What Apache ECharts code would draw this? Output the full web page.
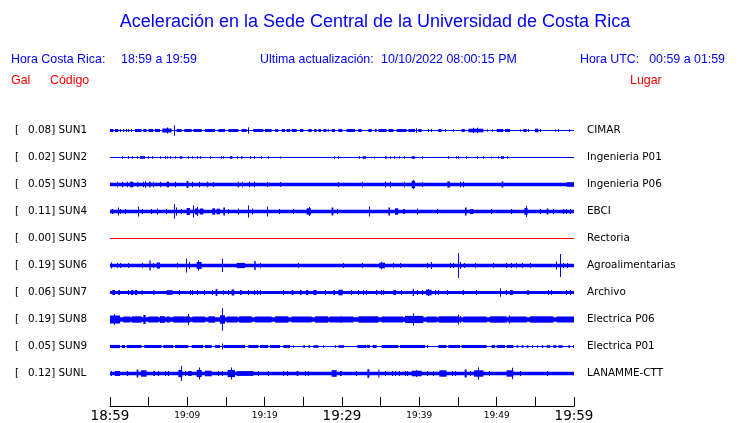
<!DOCTYPE html>
<html>
<head>
<meta charset="utf-8">
<script src="https://cdn.jsdelivr.net/npm/echarts@6/dist/echarts.min.js"></script>
<style>html,body{margin:0;padding:0;background:#fff;}#c{width:740px;height:423px;}</style>
</head>
<body>
<div id="c"></div>
<script>
// ---------- data ----------
const codes = ['SUN1','SUN2','SUN3','SUN4','SUN5','SUN6','SUN7','SUN8','SUN9','SUNL'];
const galPeaks = ['0.08','0.02','0.05','0.11','0.00','0.19','0.06','0.19','0.05','0.12'];
const places = ['CIMAR','Ingenieria P01','Ingenieria P06','EBCI','Rectoria','Agroalimentarias','Archivo','Electrica P06','Electrica P01','LANAMME-CTT'];
const tickLabels = ['18:59','','19:09','','19:19','','19:29','','19:39','','19:49','','19:59'];
const majorLabels = ['18:59','19:29','19:59'];
// background trace half-amplitude (display units)
const baseHalf = [0.6,0.5,1.8,1.8,0.5,1.8,1.6,2.3,0.6,1.8];
// events: [startMinute, endMinute, halfAmplitude]
const sun1Events = [[0,0.43,1.5],[0.65,1.08,1.5],[1.29,1.29,1.5],[1.72,1.72,1.5],[2.03,2.03,1.5],[2.37,2.37,1.5],[2.72,2.72,1.5],[3.23,4.09,1.5],[4.31,4.74,1.5],[4.96,5.6,1.5],[5.82,6.47,1.5],[6.77,7.97,2],[7.4,7.4,3],[8.32,8.32,5.3],[8.62,9.27,1.5],[9.61,10.56,1.5],[10.78,11.85,1.5],[12.28,13.58,1.5],[14.0,14.87,1.5],[15.3,16.6,1.5],[17.03,17.67,1.5],[17.8,17.8,3.3],[18.53,19.83,1.5],[20.04,20.9,1.5],[21.34,21.77,1.5],[22.2,22.63,1.5],[22.84,23.28,1.5],[23.49,24.14,1.5],[24.57,25.0,1.5],[25.65,26.08,1.5],[26.42,26.72,1.5],[26.94,27.28,1.5],[27.59,28.0,1.5],[28.15,28.3,1.5],[28.66,29.09,1.5],[29.53,30.04,1.5],[30.6,31.68,1.5],[32.11,32.54,1.5],[33.4,33.84,1.5],[34.27,34.48,1.5],[34.7,35.78,1.5],[36.0,36.64,1.5],[37.07,38.36,1.5],[38.58,39.44,1.5],[39.57,39.57,2.3],[39.87,40.3,1.5],[41.16,41.16,1.5],[41.47,41.47,1.5],[42.46,42.89,1.5],[43.32,43.32,1.5],[44.4,44.4,1.2],[45.47,45.9,1.5],[46.34,48.28,1.8],[46.98,46.98,2.7],[47.41,47.41,2.7],[48.71,48.71,1.2],[49.35,49.35,1.2],[50.0,50.86,1.5],[51.08,51.72,1.5],[53.02,53.02,1.2],[53.45,53.88,1.5],[54.09,54.09,1.5],[54.96,55.39,1.8],[55.6,55.6,1.5],[57.54,57.54,1.2],[57.97,57.97,1.2],[59.4,59.4,1.2]];
const sun2Events = [[1.51,1.51,1.3],[2.37,2.37,1.3],[2.8,2.8,1.3],[3.45,3.45,1.3],[3.88,4.53,1.3],[4.96,4.96,1.3],[5.39,5.39,1.3],[6.47,6.47,1.3],[7.11,7.11,1.3],[7.33,7.33,1.3],[7.76,7.76,1.3],[8.41,8.41,1.3],[9.05,9.35,1.3],[10.04,10.04,1.3],[10.65,10.65,1.3],[11.21,11.21,1.3],[11.64,11.64,1.3],[12.93,12.93,1.3],[14.35,14.35,1.3],[14.66,14.66,1.3],[15.52,15.82,1.3],[16.38,16.38,1.3],[16.94,17.11,1.3],[18.1,18.1,1.3],[18.66,18.66,1.3],[19.53,19.53,1.3],[20.47,20.47,1.3],[21.98,21.98,1.0],[29.0,29.0,1.3],[29.53,29.53,1.3],[32.24,32.24,1.3],[32.67,33.1,1.3],[34.18,34.18,1.0],[35.56,35.78,1.3],[36.21,36.21,1.3],[36.77,36.77,1.3],[37.37,37.37,1.3],[38.06,38.06,1.3],[39.01,39.44,1.3],[40.3,40.3,1.3],[43.75,43.75,1.3],[44.74,44.74,1.3],[45.04,45.04,1.3],[46.03,46.03,1.3],[47.5,47.5,1.3],[48.19,48.19,1.3],[49.22,49.22,1.0],[50.22,50.22,1.3],[50.56,50.95,1.3],[51.29,51.29,1.3]];
const sun3Events = [[0.95,0.95,2.8],[1.51,1.51,2.8],[2.16,2.16,2.8],[2.59,3.02,2.8],[3.53,3.66,2.8],[4.31,4.31,2.8],[4.53,4.53,3.3],[5.04,5.26,2.8],[5.6,5.6,2.8],[6.47,6.47,2.8],[7.33,7.63,2.8],[8.41,8.41,2.8],[9.91,10.13,3.5],[10.65,10.65,2.8],[11.55,11.55,2.8],[12.5,12.5,2.8],[13.36,13.36,2.5],[16.51,16.68,2.8],[17.03,17.03,2.8],[17.97,17.97,2.8],[18.66,18.66,2.8],[20.26,20.26,2.5],[21.98,21.98,2.5],[29.53,29.53,2.5],[32.54,32.54,2.8],[35.56,35.56,3.0],[36.21,36.21,2.8],[38.06,38.06,2.8],[39.01,39.44,3.7],[39.2,39.2,4.2],[40.3,40.3,2.5],[43.62,43.97,3.0],[45.26,45.26,2.8],[45.69,45.69,2.8],[50.65,50.86,3.0],[59.05,60,2.3]];
const sun4Events = [[0.22,0.43,2.5],[0.99,0.99,4],[1.29,1.29,2.5],[1.94,1.94,2.5],[3.58,3.66,5],[4.09,4.09,2.5],[5.26,5.26,2.5],[6.03,6.03,3],[7.2,7.2,2.5],[8.32,8.32,7.3],[8.49,8.49,4],[9.18,9.18,2.5],[9.91,10.34,3.5],[10.78,10.78,6],[10.99,11.4,3],[11.3,11.3,4.5],[11.6,12.07,3],[13.23,13.58,3.2],[13.79,14.22,2.8],[14.66,14.87,4],[15.3,15.3,2.5],[16.59,16.59,3],[17.89,17.89,6],[18.32,18.32,3],[20.26,20.26,5],[21.9,21.9,2.5],[23.7,23.7,2.5],[25.43,25.99,3.2],[25.7,25.7,4.5],[28.66,28.88,4],[29.31,29.31,2.5],[33.53,33.53,5],[36.0,36.21,4],[36.85,37.28,3.2],[37.93,38.15,2.5],[39.74,39.74,3],[42.24,42.24,2.5],[45.9,46.12,4],[46.55,46.98,2.5],[49.22,49.22,2.5],[51.81,51.81,2.5],[53.6,54.0,3.5],[53.79,53.79,5.5],[55.6,55.6,2.5],[56.47,56.68,3],[57.24,57.24,2.5],[58.53,58.53,2.5],[58.97,58.97,2.5],[59.48,59.48,2.5]];
const sun5Events = [];
const sun6Events = [[0.13,0.13,3],[0.86,0.86,2.5],[1.29,1.29,2.5],[2.28,2.28,2.5],[4.09,4.09,2.5],[5.09,5.26,5],[5.6,5.6,2.5],[6.03,6.47,3],[8.62,8.62,2.5],[9.87,9.87,7],[10.22,10.22,3.5],[11.21,11.85,3.5],[11.4,11.4,5.2],[14.53,14.53,6.5],[16.38,17.46,2.6],[18.66,18.84,4.5],[19.4,19.4,2.5],[24.35,24.35,2.5],[30.17,30.17,2.5],[32.54,32.54,2.5],[34.83,35.56,2.8],[35.1,35.1,3.8],[36.64,36.64,2.5],[37.5,37.5,2.5],[41.03,41.03,2.5],[41.47,41.47,3.5],[43.97,43.97,2.5],[44.31,44.31,2.5],[45.04,45.04,12.5],[45.3,45.3,3.5],[45.78,45.78,2.5],[47.2,47.2,2.5],[49.57,49.57,2.5],[51.21,51.21,2.5],[51.81,51.81,2.5],[52.5,52.5,2.5],[53.23,53.23,2.5],[54.31,54.31,2.5],[57.67,57.67,4],[58.19,58.19,11.5],[58.62,58.62,2.5],[59.05,59.05,2.5]];
const sun7Events = [[0.3,0.65,2.5],[1.08,1.29,2.5],[2.28,2.28,2.5],[2.72,3.02,2.5],[3.23,3.53,2.5],[4.09,4.22,2.5],[5.6,5.73,2.5],[7.33,8.1,2.3],[8.92,9.05,2.5],[10.34,10.34,2.5],[10.65,10.65,2.5],[11.21,11.21,2.5],[12.11,12.11,2.5],[13.23,13.23,2.5],[13.66,13.88,3.5],[14.66,14.66,2.5],[15.3,15.3,2.5],[15.73,16.08,3],[16.81,17.03,2.5],[17.89,17.89,2.5],[18.66,18.66,2.5],[18.97,18.97,2.5],[19.4,19.4,2.5],[22.41,22.41,2.5],[23.49,23.71,2.5],[24.57,24.78,2.5],[25.34,25.65,2.5],[26.29,26.72,2.5],[27.8,27.8,2.5],[28.88,29.09,2.5],[29.53,30.09,2.8],[31.12,31.12,2.5],[32.11,32.11,2.5],[32.67,32.67,2.5],[33.1,33.1,2.5],[34.4,34.57,2.5],[35.0,35.0,2.5],[35.34,35.34,2.5],[36.64,36.98,2.5],[37.59,37.59,2.5],[39.14,39.31,3.5],[39.74,39.74,2.5],[40.3,40.3,2.5],[40.86,41.59,2.8],[41.1,41.1,3.5],[42.03,42.03,2.5],[42.46,42.46,2.5],[43.53,43.53,2.5],[45.6,45.78,2.5],[47.33,47.33,2.5],[50.43,50.43,4.2],[51.21,51.21,2.5],[51.72,52.07,2.5],[53.97,54.14,2.5],[56.68,56.68,2.5],[56.98,56.98,2.5],[58.97,58.97,2.5],[59.48,59.48,2.5]];
const sun8Events = [[0,1.29,4],[0.5,0.5,5.5],[1.72,2.6,3],[2.8,4.09,3.2],[4.31,4.61,4.5],[4.96,6.25,3],[6.47,7.1,3.4],[7.3,7.76,3],[8.19,10.34,3.1],[10.13,10.13,5.5],[10.65,12.28,3],[12.72,13.58,3.2],[14.22,14.87,4.2],[14.53,14.53,11.3],[15.09,16.5,3],[16.7,18.32,3.2],[18.75,20.9,3],[21.34,23.06,3.2],[23.49,26.08,3],[26.51,28.2,3.2],[28.4,29.96,3],[29.74,31.47,3],[32.11,34.7,3.2],[35.13,37.93,3],[38.15,40.52,3.6],[39.14,39.14,6.3],[40.95,42.24,3],[42.46,45.04,3.2],[45.04,45.04,5],[45.26,45.26,3.5],[45.69,48.71,3],[49.14,51.29,3.2],[51.51,53.88,3],[51.6,51.6,4],[54.31,57.33,3.2],[57.76,60,3]];
const sun9Events = [[0,1.29,1.6],[1.51,1.94,1.5],[2.16,4.09,1.5],[4.44,6.68,1.5],[6.9,8.19,1.5],[8.41,10.13,1.5],[10.56,12.07,1.5],[12.28,13.15,1.5],[13.58,14.22,1.5],[14.44,14.44,3],[14.66,17.46,1.5],[17.89,19.18,1.5],[19.4,20.47,1.5],[20.69,21.98,1.5],[22.41,23.28,1.5],[23.71,23.71,1.3],[25.0,25.22,1.3],[25.65,25.86,1.3],[26.29,26.94,1.3],[27.59,27.59,1.3],[29.09,29.09,1.3],[29.53,30.3,1.3],[31.98,33.1,1.5],[33.19,33.62,1.5],[33.97,34.48,1.5],[35.13,37.28,1.5],[37.5,40.73,1.5],[41.03,41.03,1.5],[42.46,43.53,1.5],[43.75,45.26,1.5],[45.47,48.71,1.5],[49.35,49.78,1.5],[50.0,51.08,1.5],[51.29,52.16,1.5],[52.59,52.8,1.3],[53.23,53.45,1.3],[53.88,54.09,1.3],[54.53,54.53,1.3],[55.17,55.17,1.3],[55.82,56.03,1.3],[56.47,56.9,1.3],[57.33,57.76,1.3],[57.97,58.53,1.3],[59.27,59.48,1.3],[59.91,59.91,1.3]];
const sunLEvents = [[0.13,0.13,2.5],[0.65,1.29,2.5],[2.16,2.16,2.5],[3.45,3.66,4],[4.01,4.74,3.2],[5.6,5.82,2.5],[6.25,6.25,2.5],[7.11,7.11,2.5],[7.54,7.54,2.5],[8.84,9.35,3.6],[9.2,9.2,7.5],[9.7,9.7,2.5],[10.13,10.56,2.5],[11.21,11.85,3.6],[11.5,11.5,6],[12.28,13.15,2.8],[14.01,14.01,2.5],[14.53,14.53,2.5],[15.22,16.16,3.6],[15.6,15.6,6],[16.38,18.53,2.4],[19.18,19.18,2.5],[20.47,20.47,2.5],[22.41,22.41,2.5],[22.84,22.84,2.5],[24.14,24.35,2.5],[25.22,25.22,2.5],[25.65,25.65,2.5],[28.66,29.31,3.3],[29.74,29.96,2.5],[31.81,31.81,2.5],[33.28,33.53,4.3],[34.7,34.83,4],[35.56,35.56,2.5],[36.42,36.42,2.5],[36.85,36.85,2.5],[37.41,37.41,2.5],[38.15,38.15,2.5],[38.36,38.36,2.5],[39.01,40.3,2.8],[39.57,39.57,3.5],[40.95,40.95,2.5],[41.81,41.81,2.5],[42.59,43.53,3.2],[44.18,44.18,2.5],[44.61,44.61,2.5],[45.86,46.12,4],[46.55,46.55,2.5],[47.07,48.28,3.2],[47.63,47.63,6.3],[49.01,49.01,2.5],[51.29,52.16,3.2],[51.94,51.94,5.7],[53.02,53.02,2.5],[56.47,56.47,2.5]];
const allEvents = [sun1Events,sun2Events,sun3Events,sun4Events,sun5Events,sun6Events,sun7Events,sun8Events,sun9Events,sunLEvents];

// ---------- chart ----------
const BLUE = '#0000ff', RED = '#ff0000';
const chart = echarts.init(document.getElementById('c'), null, {renderer:'canvas'});

function renderItem(params, api) {
  const r = api.value(3);
  const p0 = api.coord([api.value(0), r]);
  const p1 = api.coord([api.value(1), r]);
  const a = api.value(2);
  let x = p0[0], w = p1[0] - p0[0];
  if (w < 1) { x = Math.round(x); w = 1; }
  return { type: 'rect', shape: { x: x, y: p0[1] - a, width: w, height: 2 * a },
           style: { fill: api.visual('color') } };
}

const series = allEvents.map((ev, i) => ({
  type: 'custom', xAxisIndex: 0, yAxisIndex: 0, silent: true, animation: false,
  renderItem: renderItem, encode: { x: [0, 1], y: 3 },
  itemStyle: { color: codes[i] === 'SUN5' ? RED : BLUE },
  data: [[0, 60, baseHalf[i], i]].concat(ev.map(e => [e[0], e[1], e[2], i]))
}));

const hdr = (t, x, y, color, size, align) => ({
  type: 'text', x: x, y: y, silent: true,
  style: { text: t, fill: color, font: size + 'px "Liberation Sans", Arial, sans-serif',
           textAlign: align || 'left', textVerticalAlign: 'middle' }
});

const lblFont = '"DejaVu Sans", sans-serif';
chart.setOption({
  animation: false,
  backgroundColor: '#fff',
  graphic: [
    hdr('Aceleración en la Sede Central de la Universidad de Costa Rica', 375, 22, BLUE, 18, 'center'),
    hdr('Hora Costa Rica:', 11, 60, BLUE, 12.4),
    hdr('18:59 a 19:59', 121, 60, BLUE, 12.4),
    hdr('Ultima actualización:', 260, 60, BLUE, 12.4),
    hdr('10/10/2022 08:00:15 PM', 381, 60, BLUE, 12.4),
    hdr('Hora UTC:', 580, 60, BLUE, 12.4),
    hdr('00:59 a 01:59', 725, 60, BLUE, 12.4, 'right'),
    hdr('Gal', 11, 81, RED, 12.4),
    hdr('Código', 50, 81, RED, 12.4),
    hdr('Lugar', 630, 81, RED, 12.4)
  ],
  grid: [
    { left: 110, right: 166, top: 117, height: 270 },
    { left: 110, right: 166, top: 400, height: 9 }
  ],
  xAxis: [
    { gridIndex: 0, type: 'value', min: 0, max: 60, show: false },
    { gridIndex: 1, type: 'value', min: 0, max: 60, interval: 5,
      axisLine: { show: true, lineStyle: { color: '#000', width: 1 } },
      axisTick: { show: true, inside: true, length: 9, lineStyle: { color: '#000', width: 1 } },
      splitLine: { show: false },
      axisLabel: {
        margin: 3, showMinLabel: true, showMaxLabel: true,
        formatter: v => {
          const t = tickLabels[Math.round(v / 5)];
          if (!t) return '';
          return majorLabels.includes(t) ? '{big|' + t + '}' : '{small|' + t + '}';
        },
        rich: {
          big: { fontSize: 13.5, lineHeight: 14, fontFamily: lblFont, color: '#000' },
          small: { fontSize: 9, lineHeight: 14, fontFamily: lblFont, color: '#000' }
        }
      } }
  ],
  yAxis: [
    { gridIndex: 0, type: 'category', data: codes, inverse: true,
      axisLine: { show: false }, axisTick: { show: false }, splitLine: { show: false },
      axisLabel: {
        margin: 95, align: 'left', color: '#000', fontSize: 10.4, fontFamily: lblFont,
        formatter: (v, i) => '{br|[}{val|' + galPeaks[i] + ']} ' + v,
        rich: {
          br: { width: 13, fontSize: 10.4, fontFamily: lblFont, color: '#000' },
          val: { fontSize: 10.4, fontFamily: lblFont, color: '#000' }
        }
      } },
    { gridIndex: 0, type: 'category', data: places, inverse: true, position: 'right',
      axisLine: { show: false }, axisTick: { show: false }, splitLine: { show: false },
      axisLabel: { margin: 13, align: 'left', color: '#000', fontSize: 10.4, fontFamily: lblFont } },
    { gridIndex: 1, type: 'value', show: false, min: 0, max: 1 }
  ],
  series: series
});
</script>
</body>
</html>
